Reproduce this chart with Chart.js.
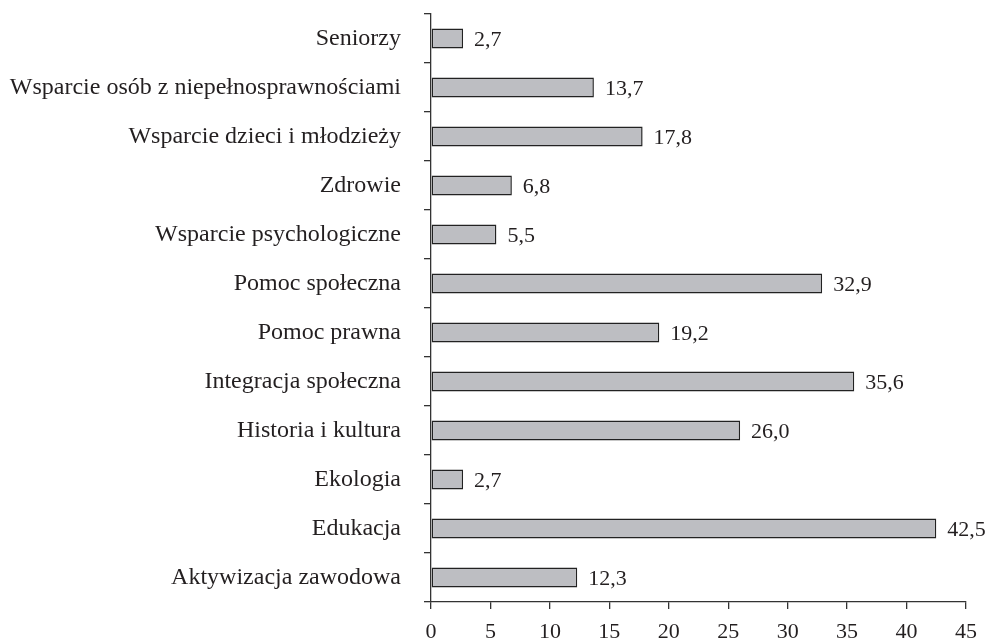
<!DOCTYPE html>
<html>
<head>
<meta charset="utf-8">
<script src="https://cdn.jsdelivr.net/npm/chart.js@4"></script>
<style>
  html, body { margin: 0; padding: 0; background: #fff; }
  #wrap { width: 991px; height: 638px; position: relative; }
</style>
</head>
<body>
<div id="wrap"><canvas id="chart"></canvas></div>
<script>
const categories = [
    "Seniorzy",
    "Wsparcie osób z niepełnosprawnościami",
    "Wsparcie dzieci i młodzieży",
    "Zdrowie",
    "Wsparcie psychologiczne",
    "Pomoc społeczna",
    "Pomoc prawna",
    "Integracja społeczna",
    "Historia i kultura",
    "Ekologia",
    "Edukacja",
    "Aktywizacja zawodowa"
];
const values = [2.7, 13.7, 17.8, 6.8, 5.5, 32.9, 19.2, 35.6, 26.0, 2.7, 42.5, 12.3];
const xTicks = [0, 5, 10, 15, 20, 25, 30, 35, 40, 45];

const ink = '#231f20';
const serif = "'Liberation Serif', 'DejaVu Serif', serif";

// value labels at bar ends, Polish decimal comma
const valueLabels = {
    id: 'valueLabels',
    afterDatasetsDraw(chart) {
        const ctx = chart.ctx;
        const meta = chart.getDatasetMeta(0);
        ctx.save();
        ctx.font = "22px " + serif;
        ctx.fillStyle = ink;
        ctx.textAlign = 'left';
        ctx.textBaseline = 'middle';
        meta.data.forEach((bar, i) => {
            ctx.fillText(values[i].toFixed(1).replace('.', ','), bar.x + 11, bar.y + 2);
        });
        ctx.restore();
    }
};

new Chart(document.getElementById('chart'), {
    type: 'bar',
    data: {
        labels: categories,
        datasets: [{
            data: values,
            backgroundColor: '#bdbec2',
            borderColor: '#222',
            borderWidth: 1.5,
            borderSkipped: false,
            barPercentage: 0.82,
            categoryPercentage: 0.5
        }]
    },
    options: {
        indexAxis: 'y',
        responsive: true,
        maintainAspectRatio: false,
        animation: false,
        layout: { padding: { top: 14, right: 25, bottom: 0, left: 0 } },
        plugins: {
            legend: { display: false },
            tooltip: { enabled: false }
        },
        scales: {
            x: {
                min: 0,
                max: 45,
                afterBuildTicks: (axis) => { axis.ticks = xTicks.map(v => ({ value: v })); },
                afterFit: (axis) => { axis.height = 36; axis.paddingLeft = 0; axis.paddingRight = 0; },
                border: { display: true, color: '#333', width: 1.3 },
                grid: { drawOnChartArea: false, drawTicks: true, tickLength: 7, color: '#333', lineWidth: 1.3 },
                ticks: { color: ink, font: { family: serif, size: 22 }, padding: 10, maxRotation: 0 }
            },
            y: {
                afterFit: (axis) => { axis.width = 431; axis.paddingTop = 0; axis.paddingBottom = 0; },
                border: { display: true, color: '#333', width: 1.3 },
                grid: { offset: true, drawOnChartArea: false, drawTicks: true, tickLength: 7, color: '#333', lineWidth: 1.3 },
                ticks: { color: ink, font: { family: serif, size: 24 }, padding: 23 }
            }
        }
    },
    plugins: [valueLabels]
});
</script>
</body>
</html>
